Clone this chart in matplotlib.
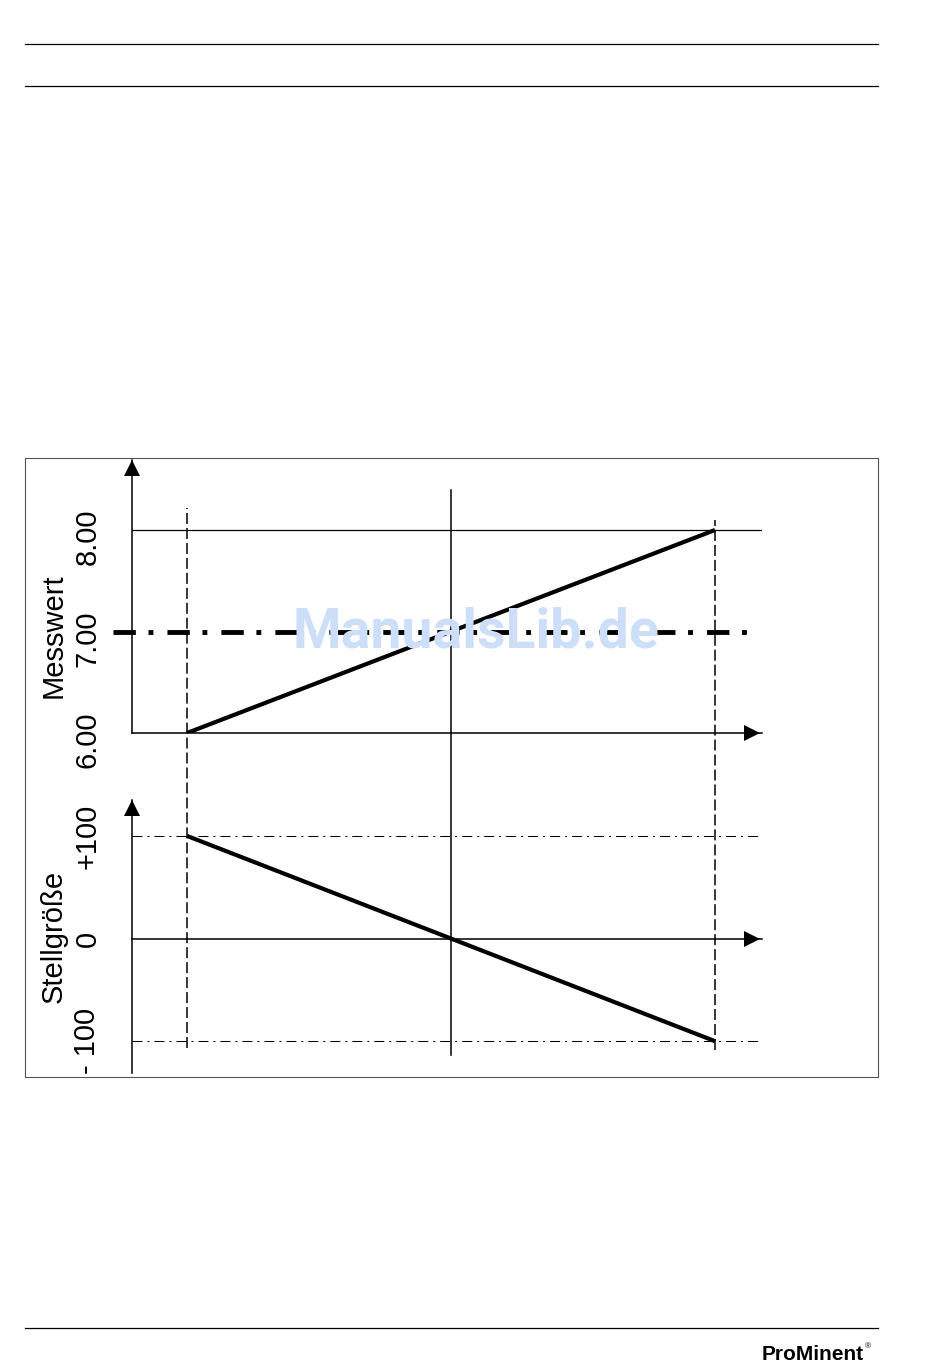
import numpy as np
import matplotlib.pyplot as plt
import matplotlib.transforms as mtransforms
from matplotlib.lines import Line2D
from matplotlib.patches import Rectangle

plt.rcParams['font.family'] = ['Liberation Sans', 'DejaVu Sans']

# values
t_pos = [0.0, 1.0]              # start / end of the ramp
messwert = [6.00, 8.00]         # measured value
stellgroesse = [100, -100]      # control output in %
sollwert = 7.00                 # setpoint
messwert_ticks = [6.00, 7.00, 8.00]
messwert_labels = ['6.00', '7.00', '8.00']
stell_ticks = [-100, 0, 100]
stell_labels = ['- 100', '0', '+100']
stell_limits = [100, -100]

W, H = 950, 1369


def px_rect(x0, y0, x1, y1):
    # pixel box (top-left origin) -> figure fraction rect
    return [x0 / W, 1 - y1 / H, (x1 - x0) / W, (y1 - y0) / H]


fig = plt.figure(figsize=(W / 100, H / 100), dpi=100)

# page furniture: header / footer rules and the frame round the figure
for y in (44, 86, 1328):
    fig.add_artist(Line2D([25 / W, 878 / W], [1 - y / H] * 2, color='black', lw=0.9))
fig.add_artist(Rectangle((25 / W, 1 - 1077 / H), 853 / W, 619 / H, fill=False,
                         edgecolor='#555555', lw=0.8, transform=fig.transFigure))

xlim = ((132 - 187) / 528, (762 - 187) / 528)

ax1 = fig.add_axes(px_rect(132, 460, 762, 733))
ax1.set_xlim(xlim)
ax1.set_ylim(6.0, 6.0 + 273 / 101.5)

ax2 = fig.add_axes(px_rect(132, 800, 762, 1073))
ax2.set_xlim(xlim)
ax2.set_ylim(-131, 135)
ax2.spines['bottom'].set_position(('data', 0))

arrow_x = (752 - 132) / 630
arrow_y = 1 - 8 / 273
for ax in (ax1, ax2):
    ax.set_facecolor('none')
    ax.spines[['top', 'right']].set_visible(False)
    ax.spines[['left', 'bottom']].set_linewidth(1.1)
    ax.set_xticks([])
    ax.tick_params(axis='y', length=0, pad=22, labelsize=21)
    ax.plot(0, arrow_y, '^k', ms=12, mew=0, transform=ax.transAxes, clip_on=False)

ax1.plot(arrow_x, messwert_ticks[0], '>k', ms=12, mew=0,
         transform=ax1.get_yaxis_transform(), clip_on=False)
ax2.plot(arrow_x, 0, '>k', ms=12, mew=0,
         transform=ax2.get_yaxis_transform(), clip_on=False)

ax1.set_yticks(messwert_ticks, messwert_labels, rotation=90, va='center')
ax2.set_yticks(stell_ticks, stell_labels, rotation=90, va='center')

# the printed labels sit a little below their levels
shift = mtransforms.ScaledTranslation(0, -5 / 72, fig.dpi_scale_trans)
for lab in ax1.get_yticklabels():
    lab.set_transform(lab.get_transform() + shift)

ax1.text(-0.124, 0.355, 'Messwert', transform=ax1.transAxes, rotation=90,
         ha='center', va='center', fontsize=21)
ax2.text(-0.124, 0.502, 'Stellgröße', transform=ax2.transAxes, rotation=90,
         ha='center', va='center', fontsize=21)

# upper panel
ax1.axhline(messwert_ticks[-1], color='black', lw=0.9)
ax1.axhline(sollwert, xmin=(113 - 132) / 630, xmax=(757 - 132) / 630, color='black',
            lw=3.5, dashes=(4.6, 2.6, 1.0, 2.9), clip_on=False)
ax1.plot(t_pos, messwert, color='black', lw=3, solid_capstyle='butt', zorder=4)

# lower panel
for lim in stell_limits:
    ax2.axhline(lim, color='black', lw=0.75, dashes=(9.6, 4.8, 1.9, 4.8))
ax2.plot(t_pos, stellgroesse, color='black', lw=3, solid_capstyle='butt', zorder=4)


# vertical guides spanning both panels (fractions of the upper panel)
def frac(p):
    return (733 - p) / 273


t_cross = np.interp(sollwert, messwert, t_pos)
ax1.axvline(t_pos[0], ymin=frac(1048), ymax=frac(508), color='black', lw=1.1,
            dashes=(7.2, 2.6), clip_on=False)
ax1.axvline(t_pos[1], ymin=frac(1050), ymax=frac(520), color='black', lw=1.1,
            dashes=(7.2, 2.6), clip_on=False)
ax1.axvline(t_cross, ymin=frac(1055), ymax=frac(490), color='black', lw=1.1,
            clip_on=False)

# watermark and logo
fig.text(476 / W, 1 - 632 / H, 'ManualsLib.de', fontsize=40, fontweight='bold',
         family=['Roboto', 'DejaVu Sans'], color='#cddff8', ha='center', va='center',
         zorder=10)
fig.text(864 / W, 1 - 1355 / H, 'ProMinent', fontsize=15, fontweight='bold',
         fontstretch='condensed', family=['Liberation Sans Narrow', 'Liberation Sans'],
         ha='right', va='center')
fig.text(865 / W, 1 - 1347 / H, '®', fontsize=6, ha='left', va='center')

fig.savefig('out.png', dpi=100)
